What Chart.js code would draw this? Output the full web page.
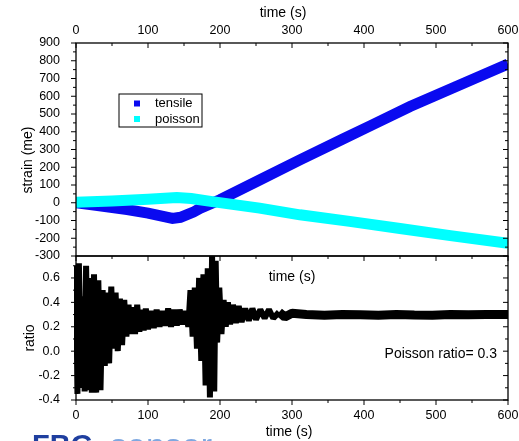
<!DOCTYPE html>
<html>
<head>
<meta charset="utf-8">
<script src="https://cdn.jsdelivr.net/npm/chart.js@4.4.0/dist/chart.umd.min.js"></script>
<style>
  body { margin: 0; background: #fff; width: 519px; height: 441px; overflow: hidden; position: relative; }
  canvas { position: absolute; left: 0; }
  #strainChart { top: 0; }
  #ratioChart { top: 250px; }
</style>
</head>
<body>
<canvas id="strainChart" width="519" height="270"></canvas>
<canvas id="ratioChart" width="519" height="191"></canvas>
<script>
// values
const tensileTime = [0, 30, 71, 100, 134, 145, 163, 172, 200, 255, 311, 370, 410, 464, 520, 560, 600];
const tensileStrain = [0, -16, -39, -58, -88, -82, -53, -32, 17, 128, 242, 358, 436, 542, 641, 711, 782];

const poissonTime = [0, 50, 100, 140, 160, 187, 255, 311, 380, 450, 520, 600];
const poissonStrain = [3, 10, 20, 30, 24, 8, -30, -68, -105, -145, -185, -228];

const ratioTime = [0, 2, 4, 6, 8, 10, 12, 14, 16, 18, 20, 22, 25, 28, 31, 34, 37, 40, 43, 46,
  49, 52, 55, 58, 61, 64, 67, 70, 73, 76, 79, 82, 85, 88, 91, 94, 97, 100, 104, 108,
  112, 116, 120, 124, 128, 132, 136, 140, 144, 148, 152, 156, 159, 162, 165, 168, 171, 174, 177, 180,
  183, 186, 189, 192, 194, 196, 199, 202, 205, 208, 211, 214, 218, 222, 226, 230, 235, 240, 245, 250,
  256, 262, 268, 274, 282, 290, 300, 320, 345, 370, 395, 420, 445, 470, 495, 520, 545, 570, 600];
const ratioValue = [0.70, -0.35, 0.72, 0.10, -0.30, 0.45, -0.33, 0.70, 0.00, -0.32, 0.60, -0.34, 0.63, -0.34, 0.58, -0.32, 0.50, -0.12, 0.48, -0.10,
  0.53, 0.02, 0.48, 0.00, 0.43, 0.05, 0.42, 0.12, 0.38, 0.14, 0.36, 0.14, 0.38, 0.16, 0.34, 0.17, 0.35, 0.18, 0.33, 0.19,
  0.34, 0.20, 0.33, 0.21, 0.35, 0.20, 0.34, 0.21, 0.34, 0.22, 0.33, 0.20, 0.50, 0.12, 0.52, 0.02, 0.60, -0.08, 0.63, -0.28,
  0.68, -0.38, 0.78, -0.33, 0.74, 0.07, 0.52, 0.14, 0.42, 0.20, 0.40, 0.22, 0.38, 0.23, 0.37, 0.24, 0.35, 0.25, 0.35, 0.26,
  0.34, 0.27, 0.34, 0.27, 0.32, 0.28, 0.31, 0.30, 0.295, 0.30, 0.298, 0.295, 0.30, 0.297, 0.295, 0.30, 0.298, 0.30, 0.30];

const timeTicks = [0, 100, 200, 300, 400, 500, 600];
const strainTicks = [-300, -200, -100, 0, 100, 200, 300, 400, 500, 600, 700, 800, 900];
const ratioTicks = [-0.4, -0.2, 0.0, 0.2, 0.4, 0.6];

const FONT = '"Liberation Sans", Arial, sans-serif';

const pts = (xs, ys) => xs.map((x, i) => ({ x: x, y: ys[i] }));

// fixed box sizes so both panels line up
const fixWidth = w => s => { s.width = w; s.paddingTop = 0; s.paddingBottom = 0; };
const fixHeight = h => s => { s.height = h; s.paddingLeft = 0; s.paddingRight = 0; };
const setTicks = arr => s => { s.ticks = arr.map(v => ({ value: v })); };

// origin-style frame, tick marks, titles and notes
const originFrame = {
  id: 'originFrame',
  afterDraw(chart, args, opts) {
    const { ctx, chartArea: a } = chart;
    const xs = chart.scales.x, ys = chart.scales.y;
    ctx.save();
    ctx.strokeStyle = '#000';
    ctx.lineWidth = 1.3;
    ctx.strokeRect(a.left, a.top, a.right - a.left, a.bottom - a.top);

    ctx.lineWidth = 1;
    const tick = (x1, y1, x2, y2) => { ctx.beginPath(); ctx.moveTo(x1, y1); ctx.lineTo(x2, y2); ctx.stroke(); };
    const xMajor = xs.ticks.map(t => t.value);
    const yMajor = ys.ticks.map(t => t.value);
    const xStep = xMajor[1] - xMajor[0], yStep = yMajor[1] - yMajor[0];
    const xMinor = xMajor.slice(0, -1).map(v => v + xStep / 2);
    const yMinor = yMajor.map(v => v + yStep / 2).filter(v => v < ys.max);

    const sides = opts.sides;
    const drawX = (yEdge, dir) => {
      xMajor.forEach(v => { const p = xs.getPixelForValue(v); tick(p, yEdge, p, yEdge + dir * 5); });
      xMinor.forEach(v => { const p = xs.getPixelForValue(v); tick(p, yEdge, p, yEdge + dir * 3); });
    };
    const drawY = (xEdge, dir) => {
      yMajor.forEach(v => { const p = ys.getPixelForValue(v); tick(xEdge, p, xEdge + dir * 5, p); });
      yMinor.forEach(v => { const p = ys.getPixelForValue(v); tick(xEdge, p, xEdge + dir * 3, p); });
    };
    if (sides.top) drawX(a.top, sides.top === 'in' ? 1 : -1);
    if (sides.bottom) drawX(a.bottom, sides.bottom === 'in' ? -1 : 1);
    if (sides.left) drawY(a.left, sides.left === 'in' ? 1 : -1);
    if (sides.right) drawY(a.right, sides.right === 'in' ? -1 : 1);

    ctx.fillStyle = '#000';
    ctx.textBaseline = 'middle';
    (opts.texts || []).forEach(t => {
      ctx.save();
      ctx.font = (t.size || 14) + 'px ' + FONT;
      ctx.textAlign = t.align || 'center';
      ctx.translate(t.x, t.y);
      if (t.rotate) ctx.rotate(-Math.PI / 2);
      ctx.fillText(t.text, 0, 0);
      ctx.restore();
    });

    if (opts.legend) {
      const L = opts.legend;
      ctx.lineWidth = 1;
      ctx.strokeRect(L.x, L.y, L.w, L.h);
      ctx.font = '13px ' + FONT;
      ctx.textAlign = 'left';
      chart.data.datasets.forEach((d, i) => {
        const cy = L.y + 9.5 + i * 15.5;
        ctx.fillStyle = d.borderColor;
        ctx.fillRect(L.x + 15, cy - 3, 6, 6);
        ctx.fillStyle = '#000';
        ctx.fillText(d.label, L.x + 36, cy);
      });
    }
    ctx.restore();
  }
};

const tickFont = { family: FONT, size: 12.5 };

new Chart(document.getElementById('strainChart'), {
  type: 'line',
  data: {
    datasets: [
      { label: 'tensile', data: pts(tensileTime, tensileStrain), borderColor: '#0a0af0', borderWidth: 11, order: 1 },
      { label: 'poisson', data: pts(poissonTime, poissonStrain), borderColor: '#00ffff', borderWidth: 11, order: 0 }
    ]
  },
  options: {
    responsive: false,
    animation: false,
    layout: { padding: { left: 0, right: 11, top: 0, bottom: 14 } },
    elements: { point: { radius: 0 }, line: { tension: 0, borderCapStyle: 'butt' } },
    plugins: {
      legend: { display: false },
      tooltip: { enabled: false },
      originFrame: {
        sides: { top: 'in', left: 'out', right: 'in' },
        texts: [
          { text: 'time (s)', x: 283, y: 13.5 },
          { text: 'strain (me)', x: 28, y: 160, rotate: true }
        ],
        legend: { x: 119, y: 94, w: 83, h: 33 }
      }
    },
    scales: {
      x: {
        type: 'linear', position: 'top', min: 0, max: 600,
        afterBuildTicks: setTicks(timeTicks), afterFit: fixHeight(43),
        grid: { display: false }, border: { display: false },
        ticks: { font: tickFont, color: '#000', padding: -3, maxRotation: 0, autoSkip: false }
      },
      y: {
        type: 'linear', min: -300, max: 900,
        afterBuildTicks: setTicks(strainTicks), afterFit: fixWidth(76),
        grid: { display: false }, border: { display: false },
        ticks: { font: tickFont, color: '#000', padding: 8, autoSkip: false }
      }
    }
  },
  plugins: [originFrame]
});

new Chart(document.getElementById('ratioChart'), {
  type: 'line',
  data: {
    datasets: [
      {
        label: 'ratio', data: pts(ratioTime, ratioValue), borderColor: '#000', borderWidth: 6,
        borderJoinStyle: 'bevel', clip: 2,
        segment: { borderWidth: c => (c.p0.parsed.x >= 282 ? 9 : 6) }
      }
    ]
  },
  options: {
    responsive: false,
    animation: false,
    layout: { padding: { left: 0, right: 11, top: 6, bottom: 0 } },
    elements: { point: { radius: 0 }, line: { tension: 0 } },
    plugins: {
      legend: { display: false },
      tooltip: { enabled: false },
      originFrame: {
        sides: { top: 'in', bottom: 'out', left: 'out', right: 'in' },
        texts: [
          { text: 'time (s)', x: 292, y: 27 },
          { text: 'Poisson ratio= 0.3', x: 497, y: 104, align: 'right' },
          { text: 'time (s)', x: 289, y: 182 },
          { text: 'ratio', x: 30, y: 88, rotate: true }
        ]
      }
    },
    scales: {
      x: {
        type: 'linear', position: 'bottom', min: 0, max: 600,
        afterBuildTicks: setTicks(timeTicks), afterFit: fixHeight(41),
        grid: { display: false }, border: { display: false },
        ticks: { font: tickFont, color: '#000', padding: 0, maxRotation: 0, autoSkip: false }
      },
      y: {
        type: 'linear', min: -0.4, max: 0.78,
        afterBuildTicks: setTicks(ratioTicks), afterFit: fixWidth(76),
        grid: { display: false }, border: { display: false },
        ticks: { font: tickFont, color: '#000', padding: 8, autoSkip: false, callback: v => v.toFixed(1) }
      }
    }
  },
  plugins: [originFrame]
});

// caption fragment cut by the bottom edge
(function () {
  const c = document.createElement('canvas');
  c.width = 519; c.height = 40;
  c.style.top = '420px';
  document.body.appendChild(c);
  const ctx = c.getContext('2d');
  ctx.textBaseline = 'alphabetic';
  ctx.fillStyle = '#1f3f9f';
  ctx.font = 'bold 29px ' + FONT;
  ctx.fillText('FBG', 32, 35);
  ctx.fillStyle = '#7fa8e0';
  ctx.font = '34px ' + FONT;
  ctx.fillText('sensor', 110, 37);
})();
</script>
</body>
</html>
